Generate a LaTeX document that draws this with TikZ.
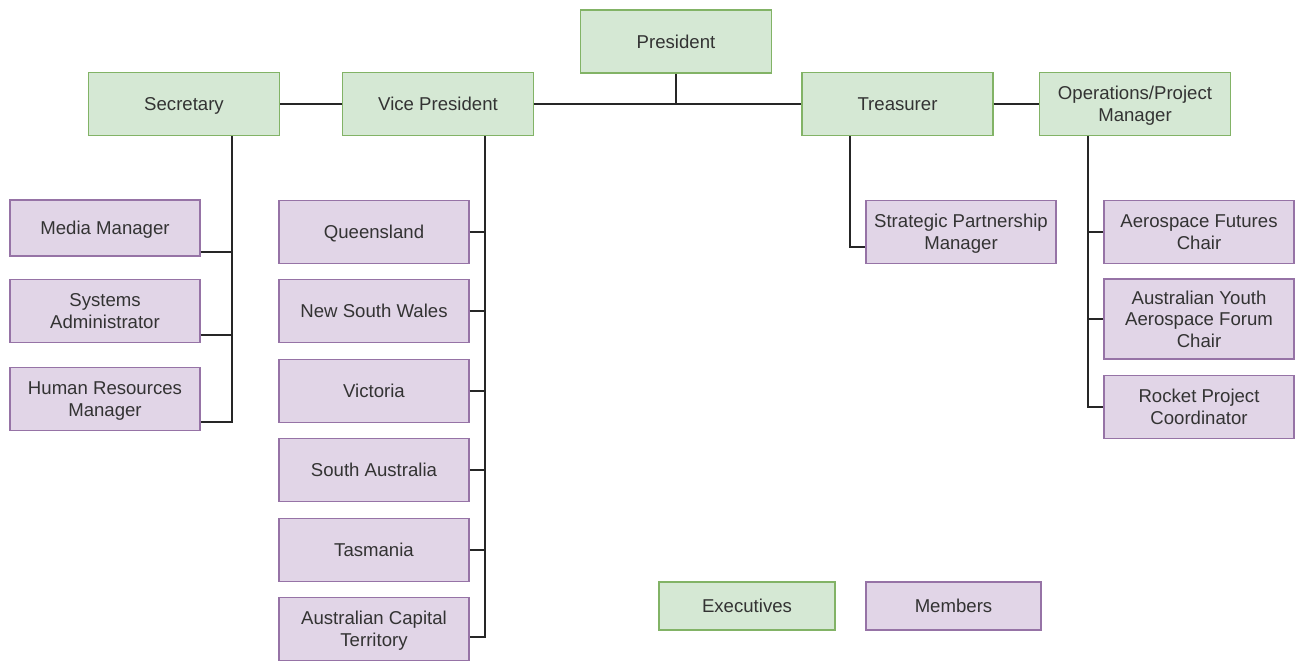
\documentclass[tikz,border=0pt]{standalone}
\usepackage{fontspec}
\setmainfont{Liberation Sans}
\usepackage{tikz, xcolor}
\usetikzlibrary{shapes,arrows}

\definecolor{execfill}{HTML}{D5E8D4}
\definecolor{execline}{HTML}{82B366}
\definecolor{membfill}{HTML}{E1D5E7}
\definecolor{membline}{HTML}{9673A6}
\definecolor{textgrey}{HTML}{333333}

\begin{document}
\begin{tikzpicture}[x=1pt, y=-1pt]
\tikzstyle{vertexe}=[rectangle, draw=execline, fill=execfill, line width=1.2pt, minimum width=191pt, minimum height=63pt, inner sep=2pt, align=center, text depth=0pt, text=textgrey, font=\fontsize{18.6}{21.5}\selectfont]
\tikzstyle{vertexm}=[rectangle, draw=membline, fill=membfill, line width=1.2pt, minimum width=190pt, minimum height=63pt, inner sep=2pt, align=center, text depth=0pt, text=textgrey, font=\fontsize{18.6}{21.5}\selectfont]
\tikzstyle{drawstyle}=[line width=1.3pt, black!85]

\useasboundingbox (0,0) rectangle (1295,661);

% executives
\node[vertexe] (pres) at (676,41.5) {President};
\node[vertexe] (sec) at (184,104) {Secretary};
\node[vertexe] (vice) at (438,104) {Vice President};
\node[vertexe] (treas) at (897.5,104) {Treasurer};
\node[vertexe] (ops) at (1135,104) {Operations/Project\\Manager};
\draw[drawstyle] (vice) -- (treas);
\draw[drawstyle] (pres) -- (pres |- vice);
\draw[drawstyle] (sec) -- (vice);
\draw[drawstyle] (treas) -- (ops);

% secretary
\node[vertexm, minimum height=56pt] (media) at (105,228) {Media Manager};
\node[vertexm] (sysadm) at (105,311) {Systems\\Administrator};
\node[vertexm] (hr) at (105,399) {Human Resources\\Manager};
\coordinate (sbus) at ([xshift=48pt]sec.south);
\draw[drawstyle] (sbus) |- ([yshift=-23pt]hr.east);
\draw[drawstyle] ([yshift=-24pt]media.east) -- ([yshift=-24pt]media.east -| sbus);
\draw[drawstyle] ([yshift=-24pt]sysadm.east) -- ([yshift=-24pt]sysadm.east -| sbus);

% vice president
\node[vertexm] (qld) at (374,232) {Queensland};
\node[vertexm] (nsw) at (374,311) {New South Wales};
\node[vertexm] (vic) at (374,391) {Victoria};
\node[vertexm] (sa) at (374,470) {South Australia};
\node[vertexm] (tas) at (374,550) {Tasmania};
\node[vertexm] (act) at (374,629) {Australian Capital\\Territory};
\coordinate (vbus) at ([xshift=47pt]vice.south);
\draw[drawstyle] (vbus) |- ([yshift=-8pt]act.east);
\foreach \n in {qld,nsw,vic,sa,tas}
  \draw[drawstyle] (\n.east) -- (\n.east -| vbus);

% treasurer
\node[vertexm] (spm) at (961,232) {Strategic Partnership\\Manager};
\draw[drawstyle] ([xshift=-47.5pt]treas.south) |- ([yshift=-15pt]spm.west);

% operations
\node[vertexm] (afc) at (1199,232) {Aerospace Futures\\Chair};
\node[vertexm, minimum height=80pt] (ayaf) at (1199,319) {Australian Youth\\Aerospace Forum\\Chair};
\node[vertexm] (rocket) at (1199,407) {Rocket Project\\Coordinator};
\coordinate (obus) at ([xshift=-47pt]ops.south);
\draw[drawstyle] (obus) |- (rocket.west);
\draw[drawstyle] (afc.west) -- (afc.west -| obus);
\draw[drawstyle] (ayaf.west) -- (ayaf.west -| obus);

% legend
\node[vertexe, minimum width=176pt, minimum height=48pt] (legexec) at (747,606) {Executives};
\node[vertexm, minimum width=175pt, minimum height=48pt] (legmemb) at (953.5,606) {Members};
\end{tikzpicture}
\end{document}
